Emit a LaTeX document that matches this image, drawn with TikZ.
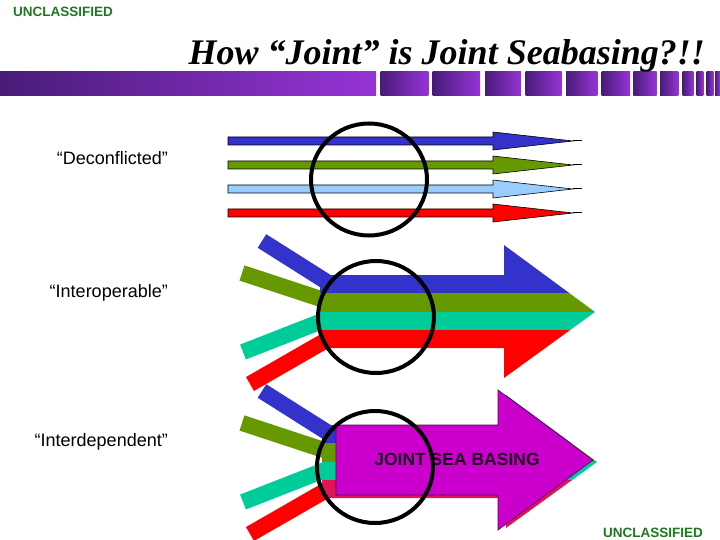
\documentclass[tikz,border=0pt]{standalone}
\usepackage{fontspec}
\setmainfont{Liberation Sans}
\newfontfamily\titlefont{Liberation Serif}
\usetikzlibrary{shapes.geometric}
\definecolor{secgreen}{RGB}{30,120,30}
\definecolor{bardark}{RGB}{72,28,120}
\definecolor{barlight}{RGB}{150,52,214}
\definecolor{arrblue}{RGB}{51,51,204}
\definecolor{arrgreen}{RGB}{102,153,0}
\definecolor{arrlight}{RGB}{153,204,255}
\definecolor{arrred}{RGB}{255,0,0}
\definecolor{arrteal}{RGB}{0,204,153}
\definecolor{arrcrim}{RGB}{225,20,90}
\definecolor{jointpurple}{RGB}{204,0,204}
\definecolor{jointedge}{RGB}{80,0,80}
\definecolor{jointtext}{RGB}{30,0,30}
\tikzset{
    secmark/.style={
        font=\bfseries\fontsize{13.5}{15}\selectfont,
        text=secgreen,
        inner sep=0pt},
    lbl/.style={
        font=\fontsize{18}{20}\selectfont,
        anchor=base east,
        inner sep=0pt},
    ring/.style={
        draw,
        ellipse,
        line width=4pt,
        minimum width=116pt,
        minimum height=112pt},
    bar/.style={line width=16pt},
    flow/.style={draw=black, line width=0.6pt}}

\begin{document}
\begin{tikzpicture}[x=1pt,y=-1pt]
        \useasboundingbox (0,0) rectangle (720,540);

        \shade[left color=bardark,right color=barlight] (0,72) rectangle (376,96);
        \foreach \xa/\xb in {380.7/428.3,432.7/480,485/521,525.7/561.7,566/597.3,601.7/630,
            633.3/656.7,660/678.3,682.7/693.3,696.7/703.3,706.7/713.3,715/720}
            \shade[left color=bardark,right color=barlight] (\xa,72) rectangle (\xb,96);

        \node[secmark,anchor=base west] (topmark) at (13,17) {UNCLASSIFIED};
        \node[secmark,anchor=base west] (botmark) at (603,537) {UNCLASSIFIED};
        \node[font=\titlefont\bfseries\itshape\fontsize{36}{40}\selectfont,
            anchor=base east,inner sep=0pt] (title) at (705,65) {How “Joint” is Joint Seabasing?!!};

        \node[lbl] (deconf) at (168,165) {“Deconflicted”};
        \node[lbl] (interop) at (168,297) {“Interoperable”};
        \node[lbl] (interdep) at (168,446) {“Interdependent”};

        \foreach \yy/\col in {141/arrblue,165/arrgreen,189/arrlight,213/arrred} {
            \filldraw[flow,fill=\col] (228,\yy-4) -- (493,\yy-4) -- (493,\yy-9) -- (573,\yy)
                -- (493,\yy+9) -- (493,\yy+4) -- (228,\yy+4) -- cycle;
            \draw[line width=1pt] (573,\yy) -- (582,\yy);
        }

        \foreach \dy/\dx/\low in {0/0/arrred,150/2/arrcrim} {
            \draw[bar,arrblue] (262,241+\dy) -- (330,284+\dy);
            \draw[bar,arrgreen] (242,273+\dy) -- (330,302+\dy);
            \draw[bar,arrteal] (243,352+\dy) -- (330,318+\dy);
            \draw[bar,arrred] (250,384+\dy) -- (330,338+\dy);
            \begin{scope}
                \clip (320+\dx,275+\dy) -- (504+\dx,275+\dy) -- (504+\dx,245+\dy) -- (595+\dx,312+\dy)
                    -- (504+\dx,378+\dy) -- (504+\dx,348+\dy) -- (320+\dx,348+\dy) -- cycle;
                \fill[arrblue] (300,230+\dy) rectangle (610,293.25+\dy);
                \fill[arrgreen] (300,293.25+\dy) rectangle (610,311.5+\dy);
                \fill[arrteal] (300,311.5+\dy) rectangle (610,329.75+\dy);
                \fill[\low] (300,329.75+\dy) rectangle (610,390+\dy);
            \end{scope}
        }

        \filldraw[flow,draw=jointedge,fill=jointpurple] (336,425) -- (498,425) -- (498,390) -- (593,460)
            -- (498,530) -- (498,495) -- (336,495) -- cycle;
        \node[font=\bfseries\fontsize{17.5}{19}\selectfont,text=jointtext,anchor=base,inner sep=0pt]
            (jsb) at (457,465) {JOINT SEA BASING};

        \node[ring] (ring1) at (369,179.5) {};
        \node[ring] (ring2) at (376,317) {};
        \node[ring] (ring3) at (375,467) {};
    \end{tikzpicture}
\end{document}
